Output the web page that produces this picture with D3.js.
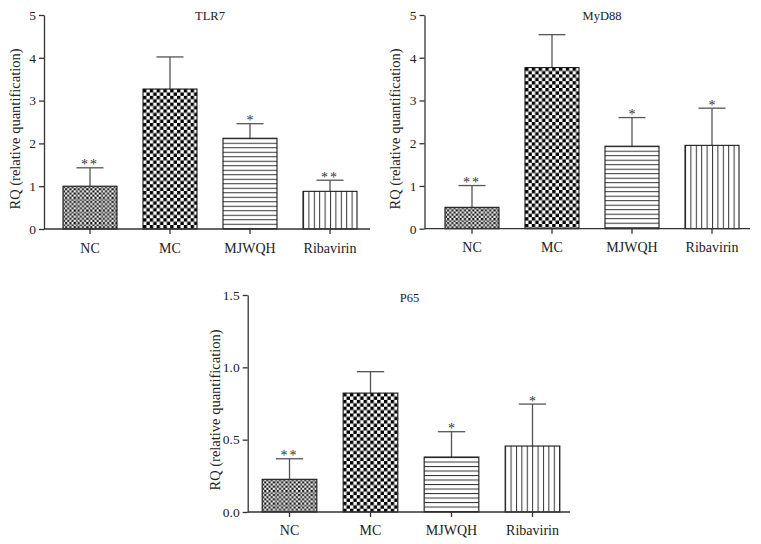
<!DOCTYPE html>
<html><head><meta charset="utf-8">
<script src="https://cdn.jsdelivr.net/npm/d3@7"></script>
<style>body{margin:0;background:#fff} svg{display:block}</style>
</head><body>
<svg id="c" width="761" height="544"></svg>
<script>
// ---------- data ----------
const categories = ["NC", "MC", "MJWQH", "Ribavirin"];
const patternKinds = ["fine", "check", "hlines", "vlines"];

const tlr7Means = [1.00, 3.27, 2.12, 0.88];
const tlr7SD    = [0.43, 0.75, 0.34, 0.26];
const tlr7Sig   = ["**", "", "*", "**"];

const myd88Means = [0.50, 3.77, 1.93, 1.95];
const myd88SD    = [0.51, 0.77, 0.67, 0.87];
const myd88Sig   = ["**", "", "*", "*"];

const p65Means = [0.226, 0.822, 0.380, 0.456];
const p65SD    = [0.142, 0.148, 0.175, 0.290];
const p65Sig   = ["**", "", "*", "*"];

const countTicks = [0, 1, 2, 3, 4, 5];
const p65Ticks   = [0, 0.5, 1.0, 1.5];

// ---------- drawing ----------
const FONT = "'Liberation Serif', 'DejaVu Serif', serif";
const svg = d3.select("#c");
const defs = svg.append("defs");

const charts = [
  {id: "tlr7", title: "TLR7", means: tlr7Means, sd: tlr7SD, sig: tlr7Sig, ticks: countTicks,
   domain: [0, 5], fmt: d3.format("d"),
   axisX: 44, axisEnd: 370, yTop: 15, yBot: 229, band: [50, 370],
   titleX: 210, titleY: 19.5, labelX: 20, labelY: 129, catY: 252.5},
  {id: "myd88", title: "MyD88", means: myd88Means, sd: myd88SD, sig: myd88Sig, ticks: countTicks,
   domain: [0, 5], fmt: d3.format("d"),
   axisX: 424.5, axisEnd: 750, yTop: 15, yBot: 228.7, band: [432, 752],
   titleX: 602, titleY: 19.5, labelX: 400, labelY: 129, catY: 252.5},
  {id: "p65", title: "P65", means: p65Means, sd: p65SD, sig: p65Sig, ticks: p65Ticks,
   domain: [0, 1.5], fmt: d3.format(".1f"),
   axisX: 247.7, axisEnd: 570, yTop: 295, yBot: 512, band: [249, 573],
   titleX: 409.5, titleY: 302, labelX: 220, labelY: 410, catY: 534.5}
];

function makePattern(id, kind, x, y) {
  if (kind === "fine") {
    const c = 2.1, n = 6, s = c * n;
    const p = defs.append("pattern").attr("id", id).attr("patternUnits", "userSpaceOnUse")
      .attr("x", x).attr("y", y).attr("width", s).attr("height", s);
    p.append("rect").attr("width", s).attr("height", s).attr("fill", "#fff");
    const cells = d3.cross(d3.range(n), d3.range(n)).filter(([i, j]) => (i + j) % 2 === 0);
    p.selectAll("rect.k").data(cells).join("rect").attr("class", "k")
      .attr("x", d => d[0] * c).attr("y", d => d[1] * c).attr("width", c).attr("height", c).attr("fill", "#111");
    p.append("rect").attr("x", 0).attr("y", 0).attr("width", 1.1).attr("height", s).attr("fill", "#8a8a8a");
    p.append("rect").attr("x", 0).attr("y", 0).attr("width", s).attr("height", 1.1).attr("fill", "#8a8a8a");
  } else if (kind === "check") {
    const c = 3.4, s = c * 2;
    const p = defs.append("pattern").attr("id", id).attr("patternUnits", "userSpaceOnUse")
      .attr("x", x).attr("y", y).attr("width", s).attr("height", s);
    p.append("rect").attr("width", s).attr("height", s).attr("fill", "#fff");
    p.append("rect").attr("x", 0).attr("y", 0).attr("width", c).attr("height", c).attr("fill", "#000");
    p.append("rect").attr("x", c).attr("y", c).attr("width", c).attr("height", c).attr("fill", "#000");
  } else if (kind === "hlines") {
    const s = 4.5;
    const p = defs.append("pattern").attr("id", id).attr("patternUnits", "userSpaceOnUse")
      .attr("x", x).attr("y", y).attr("width", 20).attr("height", s);
    p.append("rect").attr("width", 20).attr("height", s).attr("fill", "#fff");
    p.append("rect").attr("x", 0).attr("y", 0).attr("width", 20).attr("height", 1).attr("fill", "#333");
  } else {
    const s = 5.4;
    const p = defs.append("pattern").attr("id", id).attr("patternUnits", "userSpaceOnUse")
      .attr("x", x).attr("y", y).attr("width", s).attr("height", 20);
    p.append("rect").attr("width", s).attr("height", 20).attr("fill", "#fff");
    p.append("rect").attr("x", 0).attr("y", 0).attr("width", 1).attr("height", 20).attr("fill", "#333");
  }
}

charts.forEach(cfg => {
  const g = svg.append("g");
  const y = d3.scaleLinear().domain(cfg.domain).range([cfg.yBot, cfg.yTop]);
  const x = d3.scaleBand().domain(categories).range(cfg.band).paddingInner(0.325).paddingOuter(0.1625);
  const bw = x.bandwidth();
  const rows = categories.map((c, i) => ({c, i, m: cfg.means[i], sd: cfg.sd[i], sig: cfg.sig[i]}));

  rows.forEach(r => makePattern(`${cfg.id}-p${r.i}`, patternKinds[r.i], x(r.c), y(r.m)));

  // error bars
  const eb = g.append("g").attr("stroke", "#555").attr("stroke-width", 1.3).attr("fill", "none");
  eb.selectAll("line.v").data(rows).join("line").attr("class", "v")
    .attr("x1", d => x(d.c) + bw / 2).attr("x2", d => x(d.c) + bw / 2)
    .attr("y1", d => y(d.m)).attr("y2", d => y(d.m + d.sd));
  eb.selectAll("line.h").data(rows).join("line").attr("class", "h")
    .attr("x1", d => x(d.c) + bw / 4).attr("x2", d => x(d.c) + bw * 3 / 4)
    .attr("y1", d => y(d.m + d.sd)).attr("y2", d => y(d.m + d.sd));

  // bars
  g.selectAll("rect.bar").data(rows).join("rect").attr("class", "bar")
    .attr("x", d => x(d.c)).attr("y", d => y(d.m))
    .attr("width", bw).attr("height", d => y(0) - y(d.m))
    .attr("fill", d => `url(#${cfg.id}-p${d.i})`)
    .attr("stroke", "#1a1a1a").attr("stroke-width", 1.1);

  // significance
  g.selectAll("text.sig").data(rows.filter(d => d.sig)).join("text").attr("class", "sig")
    .attr("x", d => x(d.c) + bw / 2).attr("y", d => y(d.m + d.sd) + 1.5)
    .attr("text-anchor", "middle").attr("font-family", FONT).attr("font-size", 14)
    .attr("letter-spacing", d => d.sig.length > 1 ? 2 : 0)
    .attr("fill", "#333").text(d => d.sig);

  // y axis
  const yAxis = d3.axisLeft(y).tickValues(cfg.ticks).tickFormat(cfg.fmt).tickSize(5).tickPadding(3).tickSizeOuter(0);
  const ya = g.append("g").attr("transform", `translate(${cfg.axisX},0)`).call(yAxis);
  ya.select(".domain").attr("stroke", "#333").attr("stroke-width", 1.3);
  ya.selectAll(".tick line").attr("stroke", "#333").attr("stroke-width", 1.3);
  ya.selectAll(".tick text").attr("font-family", FONT).attr("font-size", 13.5).attr("fill", "#222");

  // x axis
  const xAxis = d3.axisBottom(x).tickSize(5).tickPadding(6).tickSizeOuter(0);
  const xa = g.append("g").attr("transform", `translate(0,${cfg.yBot})`).call(xAxis);
  xa.select(".domain").remove();
  xa.append("line").attr("x1", cfg.axisX).attr("x2", cfg.axisEnd).attr("y1", 0).attr("y2", 0)
    .attr("stroke", "#333").attr("stroke-width", 1.3);
  xa.selectAll(".tick line").attr("stroke", "#333").attr("stroke-width", 1.3);
  xa.selectAll(".tick text").attr("font-family", FONT).attr("font-size", 14).attr("fill", "#222")
    .attr("dy", null).attr("y", cfg.catY - cfg.yBot);

  // title
  g.append("text").attr("x", cfg.titleX).attr("y", cfg.titleY).attr("text-anchor", "middle")
    .attr("font-family", FONT).attr("font-size", 12.5).attr("fill", "#222").text(cfg.title);

  // y label
  g.append("text").attr("transform", `translate(${cfg.labelX},${cfg.labelY}) rotate(-90)`)
    .attr("text-anchor", "middle").attr("font-family", FONT).attr("font-size", 14.5).attr("fill", "#222")
    .text("RQ (relative quantification)");
});
</script>
</body></html>
